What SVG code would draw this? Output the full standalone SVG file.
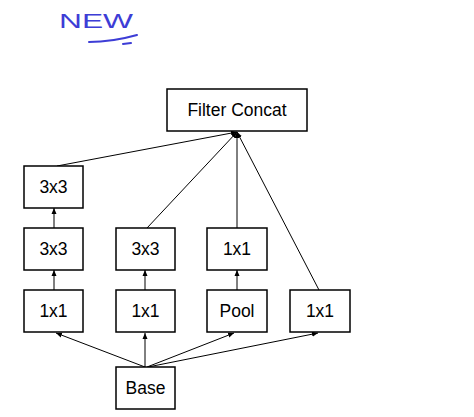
<svg xmlns="http://www.w3.org/2000/svg" width="474" height="417" viewBox="0 0 474 417">
<style>
.box{fill:#fff;stroke:#000;stroke-width:1.5}
.lbl{font-family:"Liberation Sans",Arial,sans-serif;font-size:17.5px;fill:#000;text-anchor:middle}
.edge{stroke:#000;stroke-width:1;fill:none;marker-end:url(#arr)}
.hand{font-family:"Liberation Sans",Arial,sans-serif;font-size:20px;fill:#3d3dd6}
</style>
<defs>
<marker id="arr" viewBox="0 0 6 6" refX="6" refY="3" markerWidth="6" markerHeight="6" markerUnits="userSpaceOnUse" orient="auto">
<path d="M0,0.5 L6,3 L0,5.5 Z" fill="#000"/>
</marker>
</defs>
<rect width="474" height="417" fill="#fff"/>
<g id="note">
<text class="hand" x="59" y="27.5" textLength="74" lengthAdjust="spacingAndGlyphs">NEW</text>
<path d="M89,42 Q112,42 137,35 M123,44 L131,43" stroke="#3d3dd6" stroke-width="2" fill="none" stroke-linecap="round"/>
</g>
<g id="connectors">
<line class="edge" x1="57" y1="166" x2="237" y2="132"/>
<line class="edge" x1="147" y1="228" x2="237" y2="132"/>
<line class="edge" x1="237" y1="228" x2="237" y2="132"/>
<line class="edge" x1="319" y1="290" x2="237" y2="132"/>
<line class="edge" x1="54" y1="228" x2="54" y2="208"/>
<line class="edge" x1="54" y1="290" x2="54" y2="270"/>
<line class="edge" x1="145" y1="290" x2="145" y2="270"/>
<line class="edge" x1="237" y1="290" x2="237" y2="270"/>
<line class="edge" x1="145" y1="367" x2="56" y2="333"/>
<line class="edge" x1="145" y1="367" x2="145" y2="333"/>
<line class="edge" x1="147" y1="367" x2="234" y2="333"/>
<line class="edge" x1="148" y1="367" x2="318" y2="333"/>
</g>
<g id="concat"><rect class="box" x="167" y="89" width="140" height="42"/><text class="lbl" x="237" y="116">Filter Concat</text></g>
<g id="c1r3"><rect class="box" x="24" y="166" width="59" height="42"/><text class="lbl" x="53.5" y="193">3x3</text></g>
<g id="c1r2"><rect class="box" x="24" y="228" width="59" height="42"/><text class="lbl" x="53.5" y="255">3x3</text></g>
<g id="c1r1"><rect class="box" x="24" y="290" width="59" height="42"/><text class="lbl" x="53.5" y="317">1x1</text></g>
<g id="c2r2"><rect class="box" x="116" y="228" width="59" height="42"/><text class="lbl" x="145.5" y="255">3x3</text></g>
<g id="c2r1"><rect class="box" x="116" y="290" width="59" height="42"/><text class="lbl" x="145.5" y="317">1x1</text></g>
<g id="c3r2"><rect class="box" x="207" y="228" width="60" height="42"/><text class="lbl" x="237" y="255">1x1</text></g>
<g id="c3r1"><rect class="box" x="207" y="290" width="60" height="42"/><text class="lbl" x="237" y="317">Pool</text></g>
<g id="c4r1"><rect class="box" x="290" y="290" width="60" height="42"/><text class="lbl" x="320" y="317">1x1</text></g>
<g id="base"><rect class="box" x="116" y="367" width="59" height="42"/><text class="lbl" x="145.5" y="394">Base</text></g>
</svg>
